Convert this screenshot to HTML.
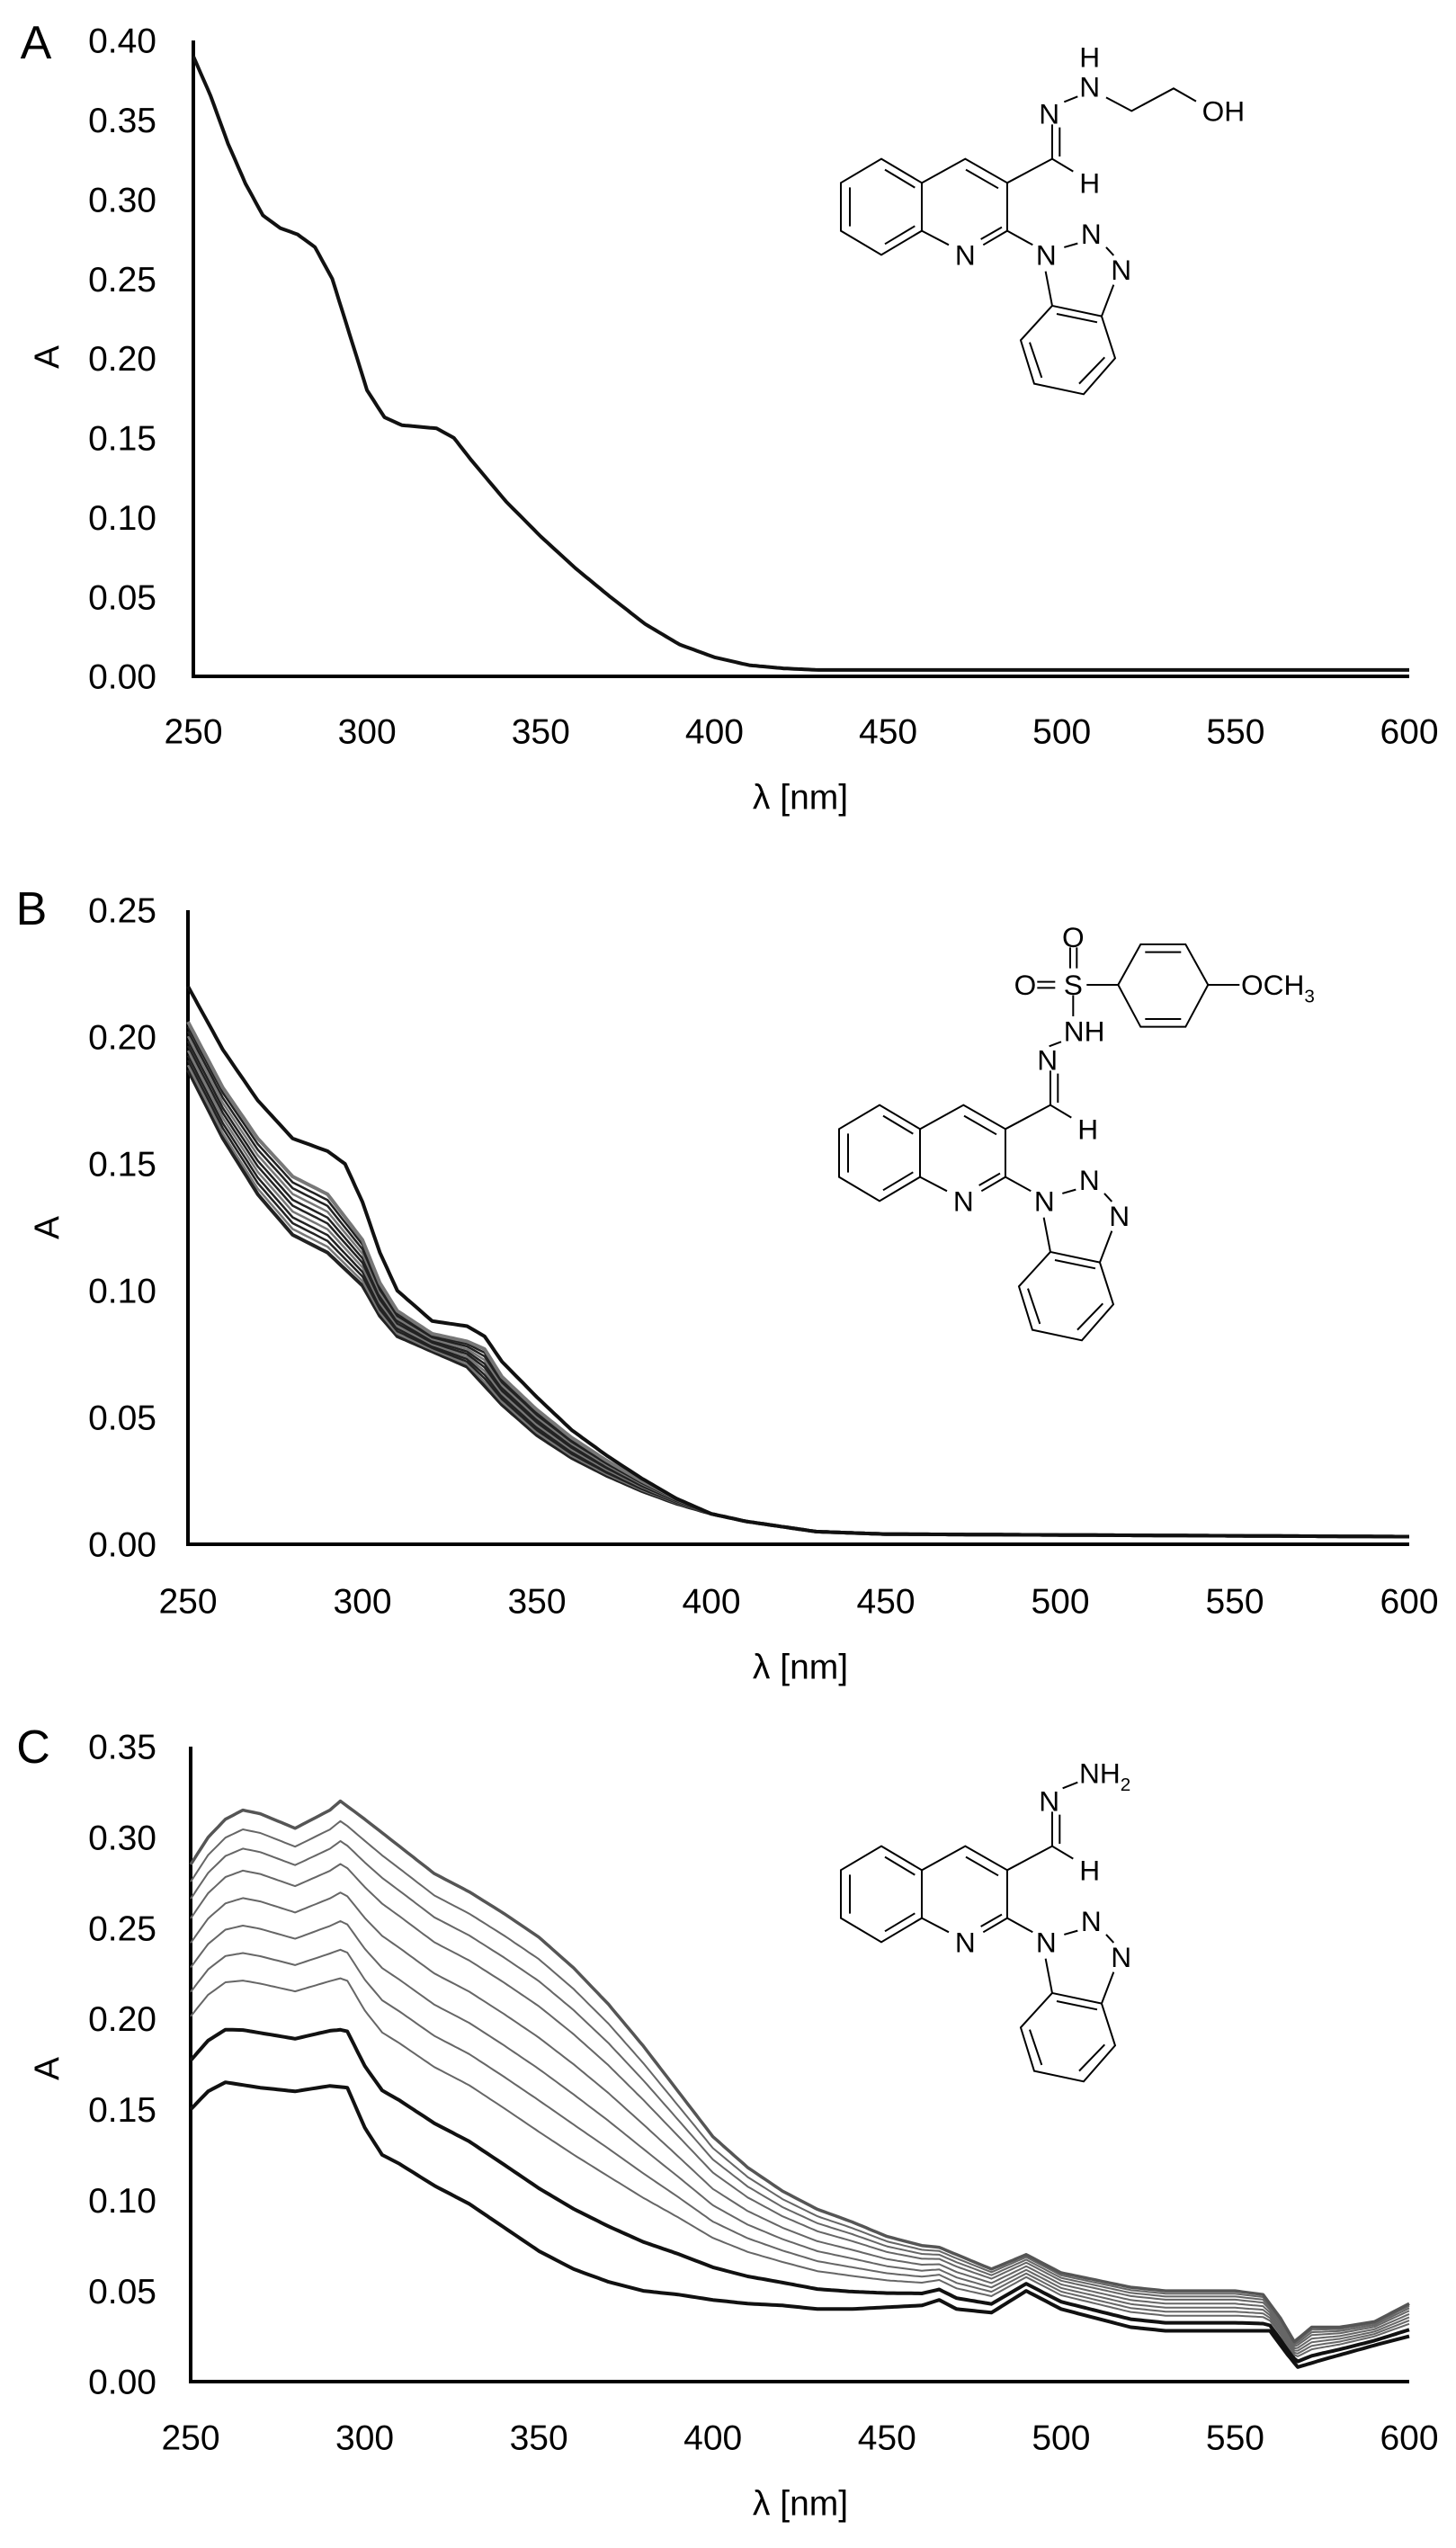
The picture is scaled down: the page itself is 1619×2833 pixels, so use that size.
<!DOCTYPE html>
<html><head><meta charset="utf-8">
<style>
html,body{margin:0;padding:0;background:#fff;}
svg{display:block;}
text{font-family:"Liberation Sans",sans-serif;fill:#000;}
</style></head>
<body>
<svg id="s" xmlns="http://www.w3.org/2000/svg" width="1619" height="2833" viewBox="0 0 1619 2833">
<rect width="1619" height="2833" fill="#fff"/>
</svg>
<script>
var S=document.getElementById('s');var out='';
function T(x,y,s,fs,anchor,extra){return '<text x="'+x+'" y="'+y+'" font-size="'+fs+'" text-anchor="'+(anchor||'middle')+'" dy="0.35em" '+(extra||'')+'>'+s+'</text>';}
var panels=[
 {x0:215,x1:1567,yt:45,yb:752,vmax:0.40,step:0.05,n:8,L:'A',Ly:47,Lx:40,xl:813,lam:886,at:397},
 {x0:209,x1:1567,yt:1012,yb:1717,vmax:0.25,step:0.05,n:5,L:'B',Ly:1010,Lx:35,xl:1780,lam:1853,at:1365},
 {x0:212,x1:1567,yt:1942,yb:2648,vmax:0.35,step:0.05,n:7,L:'C',Ly:1942,Lx:37,xl:2710,lam:2783,at:2300}
];
function X(p,l){return p.x0+(l-250)*(p.x1-p.x0)/350;}
function Y(p,v){return p.yb-v*(p.yb-p.yt)/p.vmax;}
function interp(arr,l){for(var i=0;i<arr.length-1;i++){if(l>=arr[i][0]&&l<=arr[i+1][0]){var t=(l-arr[i][0])/(arr[i+1][0]-arr[i][0]);return arr[i][1]+t*(arr[i+1][1]-arr[i][1]);}}return arr[arr.length-1][1];}
function path(p,f,w,c){var d='';for(var l=250;l<=600;l+=1){d+=(l==250?'M':'L')+X(p,l).toFixed(1)+','+Y(p,f(l)).toFixed(1);}return '<path d="'+d+'" fill="none" stroke="'+c+'" stroke-width="'+w+'" stroke-linejoin="round"/>';}
panels.forEach(function(p){
 out+='<path d="M'+p.x0+','+p.yt+'V'+p.yb+'H'+p.x1+'" fill="none" stroke="#000" stroke-width="4"/>';
 for(var i=0;i<=p.n;i++){var v=i*p.step;out+=T(174,Y(p,v),v.toFixed(2),39,'end');}
 for(var l=250;l<=600;l+=50){out+=T(X(p,l),p.xl,l,39);}
 out+=T(890,p.lam,'λ [nm]',39);
 out+=T(p.Lx,p.Ly,p.L,52);
 out+='<text x="0" y="0" font-size="39" text-anchor="middle" dy="0.35em" transform="translate(52,'+p.at+') rotate(-90)">A</text>';
});
// Panel A
var A=[[250,0.39],[255,0.365],[260,0.335],[265,0.31],[270,0.29],[275,0.282],[280,0.278],[285,0.27],[290,0.25],[295,0.215],[300,0.18],[305,0.163],[310,0.158],[320,0.156],[325,0.15],[330,0.136],[340,0.11],[350,0.088],[360,0.068],[370,0.05],[380,0.033],[390,0.02],[400,0.012],[410,0.007],[420,0.005],[430,0.004],[600,0.004]];
out+=path(panels[0],function(l){return interp(A,l);},4,'#111');
// Panel B
var Bt=[[250,0.22],[260,0.195],[270,0.175],[280,0.16],[290,0.155],[295,0.15],[300,0.135],[305,0.115],[310,0.10],[320,0.088],[330,0.086],[335,0.082],[340,0.072],[350,0.058],[360,0.045],[370,0.035],[380,0.026],[390,0.018],[400,0.012],[410,0.009],[420,0.007],[430,0.005],[450,0.004],[600,0.003]];
var Bb=[[250,0.187],[260,0.16],[270,0.138],[280,0.122],[290,0.115],[300,0.102],[305,0.09],[310,0.082],[320,0.076],[330,0.070],[340,0.055],[350,0.043],[360,0.034],[370,0.027],[380,0.021],[390,0.016],[400,0.012],[410,0.009],[420,0.007],[430,0.005],[450,0.004],[600,0.003]];
var Bm=[[250,0.206],[260,0.18],[270,0.16],[280,0.145],[290,0.138],[300,0.12],[305,0.103],[310,0.092],[320,0.083],[330,0.08],[335,0.077],[340,0.066],[350,0.053],[360,0.042],[370,0.033],[380,0.025],[390,0.018],[400,0.012],[410,0.009],[420,0.007],[430,0.005],[450,0.004],[600,0.003]];
for(var k=0;k<=10;k++){(function(t){out+=path(panels[1],function(l){return interp(Bb,l)*(1-t)+interp(Bm,l)*t;},k==0||k==10?4:2.5,k%3==1?'#777':'#222');})(k/10);}
out+=path(panels[1],function(l){return interp(Bt,l);},4,'#111');
// Panel C
var Ct=[[250,0.285],[255,0.30],[260,0.31],[265,0.315],[270,0.313],[280,0.305],[290,0.315],[293,0.32],[300,0.31],[310,0.295],[320,0.28],[330,0.27],[340,0.258],[350,0.245],[360,0.228],[370,0.208],[380,0.185],[390,0.16],[400,0.135],[410,0.118],[420,0.105],[430,0.095],[440,0.088],[450,0.08],[460,0.075],[465,0.074],[470,0.07],[480,0.062],[490,0.07],[495,0.065],[500,0.06],[510,0.056],[520,0.052],[530,0.05],[550,0.05],[558,0.048],[563,0.035],[567,0.022],[572,0.03],[580,0.03],[590,0.033],[600,0.043]];
var Cb=[[250,0.15],[255,0.16],[260,0.165],[270,0.162],[280,0.16],[290,0.163],[295,0.162],[300,0.14],[305,0.125],[310,0.12],[320,0.108],[330,0.098],[340,0.085],[350,0.072],[360,0.062],[370,0.055],[380,0.05],[390,0.048],[400,0.045],[410,0.043],[420,0.042],[430,0.04],[440,0.04],[460,0.042],[465,0.045],[470,0.04],[480,0.038],[490,0.05],[495,0.045],[500,0.04],[510,0.035],[520,0.03],[530,0.028],[560,0.028],[565,0.015],[568,0.008],[575,0.012],[590,0.02],[600,0.025]];
var ts=[0,0.2,0.38,0.48,0.58,0.68,0.78,0.86,0.93,1];
ts.forEach(function(t,i){out+=path(panels[2],function(l){return interp(Cb,l)*(1-t)+interp(Ct,l)*t;},i<2?4:(i==ts.length-1?3.5:2),i<2?'#111':(i==ts.length-1?'#555':'#666'));});

// Molecules
function core(){var s='';
 var L=function(a){s+='<path d="'+a+'" fill="none" stroke="#000" stroke-width="6"/>';};
 L('M120,440L255,520L255,680L120,760L-15,680L-15,520Z');
 L('M132,476L232,536M15,535L15,665M132,724L232,664');
 L('M255,520L400,440L540,520L540,680L460,727M345,727L255,680');
 L('M402,476L510,538M452,708L522,668');
 L('M540,520L690,440L760,482M690,440L690,325M715,432L715,335');
 L('M540,680L625,727M730,735L775,722M870,735L895,762M895,860L855,965L690,930L668,815');
 L('M705,957L840,985');
 L('M690,930L585,1045L630,1190L795,1225L900,1105L855,965M615,1052L655,1170M780,1190L865,1102');
 var t=function(x,y,c){s+='<text x="'+x+'" y="'+y+'" font-size="95" text-anchor="middle" dy="0.35em">'+c+'</text>';};
 t(400,760,'N');t(815,520,'H');t(680,290,'N');t(670,760,'N');t(820,690,'N');t(920,810,'N');
 return s;}
function grp(tx,ty,inner){return '<g transform="translate('+tx+','+ty+') scale(0.3333)">'+inner+'</g>';}
function ln(a){return '<path d="'+a+'" fill="none" stroke="#000" stroke-width="6"/>';}
function tx(x,y,c,a){return '<text x="'+x+'" y="'+y+'" font-size="95" text-anchor="'+(a||'middle')+'" dy="0.35em">'+c+'</text>';}
// A
out+=grp(940,30,core()+ln('M730,250L775,232M870,235L955,280L1095,205L1170,248')+tx(815,200,'N')+tx(815,100,'H')+tx(1190,280,'OH','start'));
// B
out+=grp(938,1082,core()+ln('M686,244L726,229M766,74L766,144M646,29L706,29M646,49L706,49M756,-86L756,-16M778,-86L778,-16M811,39L916,39M916,39L991,-96L1141,-96L1216,39L1141,179L991,179Z M1006,-70L1126,-70M1006,153L1126,153M1216,39L1321,39')
 +tx(803,194,'NH')+tx(766,39,'S')+tx(606,39,'O')+tx(766,-121,'O')+'<text x="1326" y="39" font-size="95" dy="0.35em">OCH<tspan font-size="62" dy="25">3</tspan></text>');
// C
out+=grp(940,1906,core()+ln('M725,247L775,227')+'<text x="780" y="197" font-size="95" dy="0.35em">NH<tspan font-size="62" dy="25">2</tspan></text>');
S.innerHTML+=out;
</script>
</body></html>
